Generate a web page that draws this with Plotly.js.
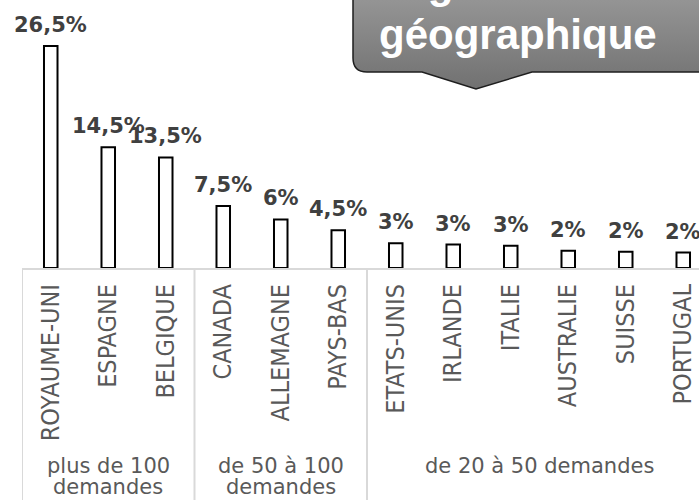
<!DOCTYPE html>
<html>
<head>
<meta charset="utf-8">
<script src="https://cdn.plot.ly/plotly-3.0.1.min.js"></script>
<style>html,body{margin:0;padding:0;overflow:hidden;background:#fff;}#chart{width:699px;height:500px;}</style>
</head>
<body>
<div id="chart"></div>
<script>
// ---- data ----
const categories = ['ROYAUME-UNI','ESPAGNE','BELGIQUE','CANADA','ALLEMAGNE','PAYS-BAS','ETATS-UNIS','IRLANDE','ITALIE','AUSTRALIE','SUISSE','PORTUGAL'];
const shares = [26.5, 14.4, 13.2, 7.4, 5.8, 4.5, 2.95, 2.8, 2.65, 2.05, 1.95, 1.85];
const shareLabels = ['26,5%','14,5%','13,5%','7,5%','6%','4,5%','3%','3%','3%','2%','2%','2%'];
const groupLabels = ['plus de 100<br>demandes','de 50 à 100<br>demandes','de 20 à 50 demandes'];
const groupSizes = [3, 3, 6];
const titleLines = ['Origine', 'géographique'];

// ---- layout geometry ----
const W = 699, H = 500;
const M = {l: 22, r: 0, t: 15, b: 232};
const plotW = W - M.l - M.r, plotH = H - M.t - M.b;
const baseY = H - M.b;
const px2x = p => (p - M.l) / plotW;
const px2y = p => (baseY - p) / plotH;

const annotations = [];
// value labels
categories.forEach((c, i) => {
  annotations.push({
    x: c, y: shares[i], xref: 'x', yref: 'y', text: shareLabels[i], showarrow: false,
    yanchor: 'middle', yshift: 21,
    font: {family: 'DejaVu Sans', size: 21, color: '#404040', weight: 'bold'}
  });
});
// group labels + separators
const shapes = [];
let start = 0;
groupSizes.forEach((n, g) => {
  const center = start + (n - 1) / 2;
  shapes.push({type: 'line', xref: 'x', yref: 'paper', x0: start - 0.5, x1: start - 0.5,
    y0: 0, y1: px2y(H + 5), line: {color: '#d9d9d9', width: 2}, layer: 'below'});
  groupLabels[g].split('<br>').forEach((line, k) => {
    annotations.push({
      x: center, xref: 'x', yref: 'paper', y: px2y(466 + k * 21), text: line, showarrow: false,
      xanchor: 'center', yanchor: 'middle',
      font: {family: 'DejaVu Sans', size: 21, color: '#595959'}
    });
  });
  start += n;
});
// title callout text
titleLines.forEach((t, k) => {
  annotations.push({
    xref: 'paper', yref: 'paper', x: px2x(k === 0 ? 365 : 377), y: px2y(34 - (1 - k) * 51),
    text: t, showarrow: false, xanchor: 'left', yanchor: 'middle',
    font: {family: 'Liberation Sans, Arial, sans-serif', size: 42, color: '#ffffff', weight: 'bold'}
  });
});

// callout background (decoration)
const svg = '<svg xmlns="http://www.w3.org/2000/svg" width="378" height="112" viewBox="0 0 378 112" preserveAspectRatio="none">' +
  '<defs><linearGradient id="g" x1="0" y1="0" x2="0" y2="1">' +
  '<stop offset="0" stop-color="#9c9c9c"/><stop offset="1" stop-color="#717171"/></linearGradient></defs>' +
  '<path d="M1,0 L1,78 Q1,92 15,92 L70,92 L124,109 L180,92 L378,92 L378,0 Z" fill="url(#g)" stroke="#1e1e1e" stroke-width="1.5"/></svg>';
const images = [{
  source: 'data:image/svg+xml;charset=utf-8,' + encodeURIComponent(svg),
  xref: 'paper', yref: 'paper', x: px2x(352), y: px2y(-20),
  sizex: 378 / plotW, sizey: 112 / plotH, sizing: 'stretch',
  xanchor: 'left', yanchor: 'top', layer: 'above'
}];

const trace = {
  type: 'bar', x: categories, y: shares, width: 0.235,
  marker: {color: '#ffffff', line: {color: '#000000', width: 2}},
  hoverinfo: 'none', textposition: 'none'
};

const catW = 57.5;
const layout = {
  width: W, height: H, margin: M,
  paper_bgcolor: '#ffffff', plot_bgcolor: '#ffffff',
  showlegend: false, bargap: 0,
  xaxis: {
    type: 'category', range: [-0.5, -0.5 + plotW / catW],
    showline: true, linecolor: '#d9d9d9', linewidth: 2, layer: 'below traces',
    showgrid: false, zeroline: false,
    ticks: 'outside', ticklen: 4, tickcolor: 'rgba(0,0,0,0)',
    tickangle: -90,
    tickfont: {family: 'Liberation Sans Narrow, DejaVu Sans Condensed, Arial Narrow, sans-serif', size: 25, color: '#595959'}
  },
  yaxis: {range: [0, plotH / 8.38], visible: false, showgrid: false, zeroline: false},
  annotations: annotations, shapes: shapes, images: images
};

Plotly.newPlot('chart', [trace], layout, {displayModeBar: false, staticPlot: true});
</script>
</body>
</html>
